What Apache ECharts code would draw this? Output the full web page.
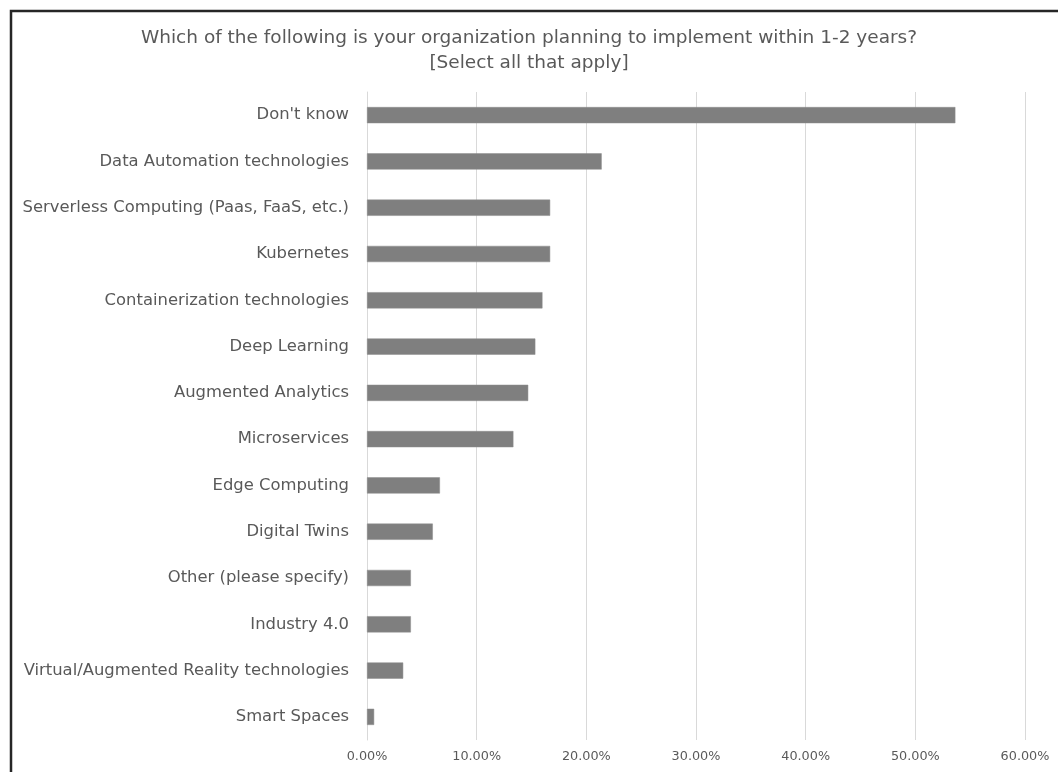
<!DOCTYPE html>
<html>
<head>
<meta charset="utf-8">
<script src="https://cdn.jsdelivr.net/npm/echarts@6/dist/echarts.min.js"></script>
<style>
  html, body { margin: 0; padding: 0; background: #fff; }
  #chart { width: 1058px; height: 772px; }
</style>
</head>
<body>
<div id="chart"></div>
<script>
// Survey answers, top to bottom
const categories = [
  "Don't know",
  "Data Automation technologies",
  "Serverless Computing (Paas, FaaS, etc.)",
  "Kubernetes",
  "Containerization technologies",
  "Deep Learning",
  "Augmented Analytics",
  "Microservices",
  "Edge Computing",
  "Digital Twins",
  "Other (please specify)",
  "Industry 4.0",
  "Virtual/Augmented Reality technologies",
  "Smart Spaces"
];
// Share of respondents (fraction)
const shares = [
  0.5365, 0.214, 0.167, 0.167, 0.160, 0.1535, 0.147,
  0.1335, 0.0665, 0.060, 0.040, 0.040, 0.033, 0.0065
];
const titleLines = [
  "Which of the following is your organization planning to implement within 1-2 years?",
  "[Select all that apply]"
];

const chart = echarts.init(document.getElementById('chart'), null, { renderer: 'canvas' });
const font = '"DejaVu Sans", Verdana, sans-serif';

chart.setOption({
  backgroundColor: '#ffffff',
  animation: false,
  title: {
    text: titleLines.join('\n'),
    left: 'center',
    top: 21,
    textStyle: {
      color: '#595959',
      fontFamily: font,
      fontSize: 18.5,
      fontWeight: 'normal',
      lineHeight: 25
    }
  },
  graphic: [
    {
      type: 'polyline',
      shape: { points: [[11, 772], [11, 11], [1058, 11]] },
      style: { stroke: '#262626', lineWidth: 2.5, fill: null },
      silent: true
    }
  ],
  grid: { left: 367, right: 33, top: 92, bottom: 32, containLabel: false },
  xAxis: {
    type: 'value',
    min: 0,
    max: 0.6,
    interval: 0.1,
    axisLine: { show: false },
    axisTick: { show: false },
    splitLine: { lineStyle: { color: '#d9d9d9', width: 1 } },
    axisLabel: {
      color: '#595959',
      fontFamily: font,
      fontSize: 12.8,
      margin: 10,
      formatter: v => (v * 100).toFixed(2) + '%'
    }
  },
  yAxis: {
    type: 'category',
    data: categories,
    inverse: true,
    axisLine: { show: true, lineStyle: { color: '#d9d9d9', width: 1 } },
    axisTick: { show: false },
    axisLabel: {
      color: '#595959',
      fontFamily: font,
      fontSize: 16.4,
      margin: 18
    }
  },
  series: [{
    type: 'bar',
    data: shares,
    barWidth: '35%',
    itemStyle: { color: '#7f7f7f', borderColor: '#8c8c8c', borderWidth: 0.5 }
  }]
});
</script>
</body>
</html>
